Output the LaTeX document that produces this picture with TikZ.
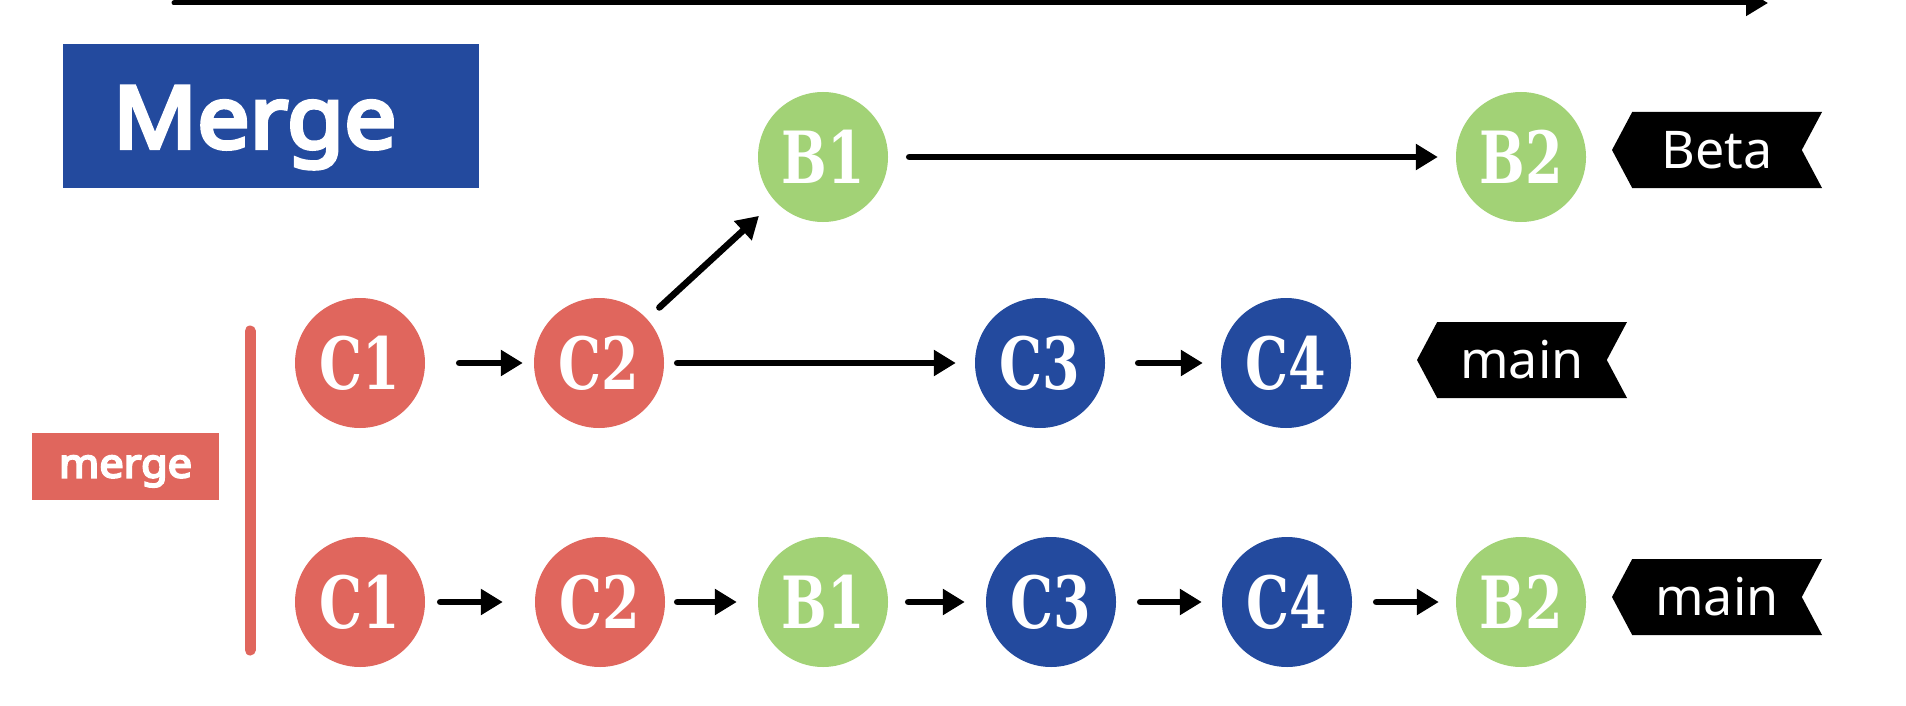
\documentclass[tikz,border=0pt]{standalone}
\usepackage{fontspec}
\setmainfont{Noto Sans}
\newfontfamily\boldsans[FakeBold=5,FakeStretch=1.08]{Noto Sans}
\newfontfamily\circfont[FakeStretch=0.75]{DejaVu Serif}
\usetikzlibrary{arrows.meta,shapes.symbols}
\definecolor{gblue}{HTML}{234A9E}
\definecolor{gred}{HTML}{E0665D}
\definecolor{ggreen}{HTML}{A2D276}
\tikzset{
  commit/.style={circle, minimum size=130pt, inner sep=0pt, text=white,
    font=\circfont\bfseries\fontsize{72}{72}\selectfont},
  redc/.style={commit, fill=gred},
  greenc/.style={commit, fill=ggreen},
  bluec/.style={commit, fill=gblue},
  arr/.style={line width=6.5pt, line cap=round, -{Triangle[length=22pt, width=25pt]}},
  tagbox/.style={signal, signal to=west, signal from=east, signal pointer angle=124,
    fill=black, text=white, minimum width=210pt, minimum height=76pt, inner sep=0pt,
    text height=37pt, text depth=0pt, font=\fontsize{52}{52}\selectfont},
}
\begin{document}
\begin{tikzpicture}[x=1pt,y=-1pt]
\useasboundingbox[fill=white] (0,0) rectangle (1906,706);
% top arrow
\coordinate (tl) at (174,3);
\coordinate (tr) at (1768,3);
\draw[arr, line width=5pt] (tl) -- (tr);
% title
\node[fill=gblue, text=white, minimum width=416pt, minimum height=144pt,
  inner xsep=50pt, text width=316pt, align=left, text height=64pt, text depth=0pt,
  font=\boldsans\fontsize{86}{86}\selectfont] (title) at (271,116) {Merge};
% merge label and bar
\node[fill=gred, text=white, minimum width=187pt, minimum height=67pt, inner sep=0pt,
  text height=32pt, text depth=10pt,
  font=\boldsans\fontsize{40}{40}\selectfont] (mergelbl) at (125.5,466.5) {merge};
\draw[gred, line width=11pt, line cap=round] (250,331) -- (250,650);
% top row
\node[greenc] (b1) at (823,157) {B1};
\node[greenc] (b2) at (1521,157) {B2};
\node[tagbox] (beta) at (1717,150) {Beta};
% middle row
\node[redc] (c1) at (360,363) {C1};
\node[redc] (c2) at (599,363) {C2};
\node[bluec] (c3) at (1040,363) {C3};
\node[bluec] (c4) at (1286,363) {C4};
\node[tagbox] (mainA) at (1522,360) {main};
% bottom row
\node[redc] (d1) at (360,602) {C1};
\node[redc] (d2) at (600,602) {C2};
\node[greenc] (d3) at (823,602) {B1};
\node[bluec] (d4) at (1051,602) {C3};
\node[bluec] (d5) at (1287,602) {C4};
\node[greenc] (d6) at (1521,602) {B2};
\node[tagbox] (mainB) at (1717,597) {main};
% arrows middle/top
\draw[arr, shorten <=34pt, shorten >=11pt] (c1.east) -- (c2.west);
\draw[arr, shorten <=13pt, shorten >=19pt] (c2.east) -- (c3.west);
\draw[arr, shorten <=33pt, shorten >=18pt] (c3.east) -- (c4.west);
\draw[arr, shorten <=21pt, shorten >=18pt] (b1.east) -- (b2.west);
\draw[arr, shorten <=82pt, shorten >=87pt] (c2.center) -- (b1.center);
% arrows bottom
\draw[arr, shorten <=15pt, shorten >=32pt] (d1.east) -- (d2.west);
\draw[arr, shorten <=12pt, shorten >=21pt] (d2.east) -- (d3.west);
\draw[arr, shorten <=20pt, shorten >=21pt] (d3.east) -- (d4.west);
\draw[arr, shorten <=24pt, shorten >=20pt] (d4.east) -- (d5.west);
\draw[arr, shorten <=24pt, shorten >=17pt] (d5.east) -- (d6.west);
\end{tikzpicture}
\end{document}
